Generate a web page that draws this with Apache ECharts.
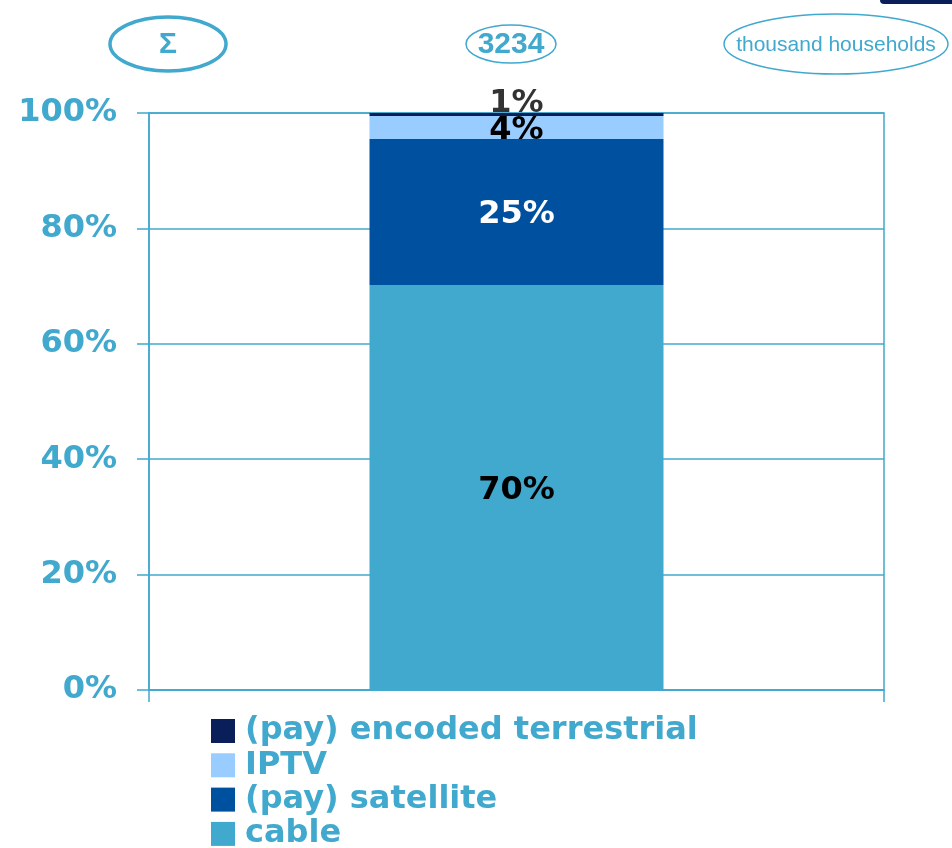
<!DOCTYPE html>
<html>
<head>
<meta charset="utf-8">
<script src="https://cdn.jsdelivr.net/npm/echarts@6/dist/echarts.min.js"></script>
<style>
  html, body { margin: 0; padding: 0; background: #fff; }
  #chart { width: 952px; height: 848px; }
</style>
</head>
<body>
<div id="chart"></div>
<script>
// Datos
const categories = [''];
const seriesNames = ['cable', '(pay) satellite', 'IPTV', '(pay) encoded terrestrial'];
const cable = [70.2];
const satellite = [25.3];
const iptv = [4.0];
const terrestrial = [0.5];
const yTicks = [0, 20, 40, 60, 80, 100];
const total = '3234';
const unit = 'thousand households';

const blue = '#41A8CE';
const font = '"Liberation Sans", Arial, sans-serif';
const boldFont = '"DejaVu Sans", sans-serif';

const chart = echarts.init(document.getElementById('chart'));

const labelBase = {
  show: true,
  fontFamily: boldFont,
  fontWeight: 'bold',
  fontSize: 32,
  formatter: p => Math.round(p.value) + '%'
};

const option = {
  animation: false,
  grid: {
    left: 149, right: 68, top: 113, bottom: 158,
    show: true, borderColor: blue, borderWidth: 1.5
  },
  legend: {
    orient: 'vertical',
    left: 211, top: 715, height: 200,
    padding: 0,
    itemWidth: 24, itemHeight: 24,
    itemGap: 2.3,
    data: seriesNames.slice().reverse(),
    icon: 'rect',
    textStyle: {
      color: blue, fontFamily: boldFont, fontWeight: 'bold',
      fontSize: 32, padding: [0, 0, 0, 5]
    }
  },
  xAxis: {
    type: 'category',
    data: categories,
    axisLine: { lineStyle: { color: blue, width: 1.5 } },
    axisTick: { show: true, length: 12, lineStyle: { color: blue, width: 1.5 } },
    axisLabel: { show: false }
  },
  yAxis: {
    type: 'value',
    min: yTicks[0], max: yTicks[yTicks.length - 1], interval: 20,
    axisLine: { show: true, lineStyle: { color: blue, width: 1.5 } },
    axisTick: { show: true, length: 12, lineStyle: { color: blue, width: 1.5 } },
    splitLine: { lineStyle: { color: blue, width: 1.5 } },
    axisLabel: {
      formatter: '{value}%', color: blue, fontFamily: boldFont,
      fontWeight: 'bold', fontSize: 32, margin: 32
    }
  },
  series: [
    {
      name: seriesNames[0], type: 'bar', stack: 'a', data: cable, barWidth: '40%',
      itemStyle: { color: '#41A8CE' },
      label: Object.assign({}, labelBase, { position: 'inside', offset: [0, 3], color: '#000' })
    },
    {
      name: seriesNames[1], type: 'bar', stack: 'a', data: satellite,
      itemStyle: { color: '#0050A0' },
      label: Object.assign({}, labelBase, { position: 'inside', offset: [0, 3], color: '#fff' })
    },
    {
      name: seriesNames[2], type: 'bar', stack: 'a', data: iptv,
      itemStyle: { color: '#99CCFF' },
      label: Object.assign({}, labelBase, { position: 'inside', offset: [0, 3], color: '#000' })
    },
    {
      name: seriesNames[3], type: 'bar', stack: 'a', data: terrestrial,
      itemStyle: { color: '#0A1E5A' },
      label: Object.assign({}, labelBase, { position: 'top', distance: -7, color: '#333' })
    }
  ],
  graphic: [
    { type: 'ellipse', shape: { cx: 168, cy: 44, rx: 58, ry: 27 },
      style: { fill: 'none', stroke: blue, lineWidth: 3.5 } },
    { type: 'text', x: 168, y: 45,
      style: { text: 'Σ', fill: blue, font: 'bold 30px ' + font, align: 'center', verticalAlign: 'middle' } },
    { type: 'ellipse', shape: { cx: 511, cy: 44, rx: 45, ry: 19 },
      style: { fill: 'none', stroke: blue, lineWidth: 1.5 } },
    { type: 'text', x: 511, y: 45,
      style: { text: total, fill: blue, font: 'bold 30px ' + font, align: 'center', verticalAlign: 'middle' } },
    { type: 'ellipse', shape: { cx: 836, cy: 44, rx: 112, ry: 30 },
      style: { fill: 'none', stroke: blue, lineWidth: 1.5 } },
    { type: 'text', x: 836, y: 45,
      style: { text: unit, fill: blue, font: '21px ' + font, align: 'center', verticalAlign: 'middle' } },
    { type: 'rect', shape: { x: 880, y: -6, width: 80, height: 10, r: 4 },
      style: { fill: '#0A1E5A' } }
  ]
};

chart.setOption(option);
window.addEventListener('resize', () => chart.resize());
</script>
</body>
</html>
